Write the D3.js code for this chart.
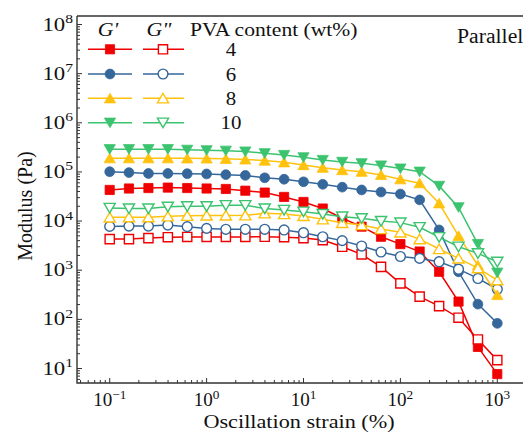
<!DOCTYPE html>
<html>
<head>
<meta charset="utf-8">
<script src="https://cdn.jsdelivr.net/npm/d3@7"></script>
<style>
  body { margin: 0; background: #fff; }
  svg { display: block; font-family: "Liberation Serif", "Times New Roman", serif; }
</style>
</head>
<body>
<div id="chart"></div>
<script>
// oscillation strain (%), 5 points per decade
const strain = [0.1, 0.158, 0.251, 0.398, 0.631, 1, 1.58, 2.51, 3.98, 6.31,
  10, 15.8, 25.1, 39.8, 63.1, 100, 158, 251, 398, 631, 1000];

// storage modulus G' (Pa)
const gp4 = [43000, 46000, 47000, 48000, 47000, 46000, 45000, 41500, 38000, 31000,
  24500, 18000, 11400, 7700, 4800, 3400, 2400, 930, 230, 27.5, 7.7];
const gp6 = [101000, 97000, 93000, 93000, 92000, 91000, 88000, 85000, 76000, 71000,
  63000, 56000, 49000, 43000, 39000, 35500, 27000, 6600, 930, 204, 83];
const gp8 = [190000, 190000, 190000, 190000, 189000, 188000, 185000, 180000, 170000, 157000,
  138000, 122000, 109000, 101000, 87000, 71000, 59000, 23000, 5000, 1260, 313];
const gp10 = [290000, 290000, 290000, 290000, 282000, 275000, 270000, 260000, 240000, 221000,
  198000, 175000, 160000, 150000, 135000, 117000, 101000, 52000, 19000, 3400, 890];

// loss modulus G'' (Pa)
const gpp4 = [4300, 4300, 4500, 4700, 4750, 4750, 4750, 4750, 4800, 4700,
  4500, 4100, 3000, 2100, 1170, 540, 290, 186, 108, 39, 14.8];
const gpp6 = [7800, 7900, 7900, 8300, 7700, 7100, 6800, 6800, 6800, 6600,
  5800, 4800, 4000, 3100, 2350, 1900, 1740, 1490, 1050, 680, 410];
const gpp8 = [11900, 12000, 12000, 12500, 12800, 13000, 13000, 13100, 14400, 13900,
  12700, 10900, 9200, 8300, 6900, 5900, 4300, 2700, 1740, 1100, 630];
const gpp10 = [18500, 18000, 18000, 19500, 20000, 20000, 21000, 21000, 18000, 16800,
  15500, 13900, 12300, 11400, 10000, 9300, 7500, 4700, 3000, 2200, 1480];

const contents = ["4", "6", "8", "10"];
const colors = ["#f00000", "#35679b", "#ffc20e", "#3cc36f"];
const shapes = ["square", "circle", "up", "down"];

const series = contents.map((c, i) => ({
  label: c, color: colors[i], shape: shapes[i],
  gp: [gp4, gp6, gp8, gp10][i], gpp: [gpp4, gpp6, gpp8, gpp10][i]
}));

const W = 523, H = 432;
const plotLeft = 77, plotRight = 530, plotTop = 16, plotBottom = 383;

const svg = d3.select("#chart").append("svg")
  .attr("width", W).attr("height", H);

const x = d3.scaleLog().domain([Math.pow(10, -1.3375), Math.pow(10, 3.3375)]).range([plotLeft, plotRight]);
const y = d3.scaleLog().domain([Math.pow(10, 0.705), Math.pow(10, 8.173)]).range([plotBottom, plotTop]);

// text that is a bit wider than the font, like the reference
function label(px, py, size, sx, anchor) {
  return svg.append("g")
    .attr("transform", `translate(${px},${py}) scale(${sx},1)`)
    .append("text")
    .attr("text-anchor", anchor || "start")
    .attr("font-size", size).attr("fill", "#111");
}

function markerPath(shape) {
  if (shape === "square") return "M-4.6,-4.6H4.6V4.6H-4.6Z";
  if (shape === "circle") return d3.symbol().type(d3.symbolCircle).size(Math.PI * 4.9 * 4.9)();
  if (shape === "up") return "M0,-5L5.6,4.6L-5.6,4.6Z";
  return "M0,5L5.6,-4.6L-5.6,-4.6Z";
}

// axes frame
const axisColor = "#333";
svg.append("path")
  .attr("d", `M${plotLeft},${plotTop}V${plotBottom}H${plotRight + 5}M${plotLeft},${plotTop}H${plotRight + 5}`)
  .attr("fill", "none").attr("stroke", axisColor).attr("stroke-width", 1.4);

// y ticks
for (let e = 0; e <= 8; e++) {
  for (let m = 1; m <= 9; m++) {
    const v = m * Math.pow(10, e);
    if (v < y.domain()[0] || v > y.domain()[1]) continue;
    const len = m === 1 ? 5 : 3;
    svg.append("line")
      .attr("x1", plotLeft).attr("x2", plotLeft + len)
      .attr("y1", y(v)).attr("y2", y(v))
      .attr("stroke", axisColor).attr("stroke-width", 1);
  }
}
for (let e = 1; e <= 8; e++) {
  const t = label(73, y(Math.pow(10, e)) + 6, 19, 1.2, "end");
  t.append("tspan").text("10");
  t.append("tspan").attr("dy", -7.5).attr("font-size", 13).text(e);
}

// x ticks
for (let e = -2; e <= 3; e++) {
  for (let m = 1; m <= 9; m++) {
    const v = m * Math.pow(10, e);
    if (v < x.domain()[0] || v > x.domain()[1]) continue;
    const len = m === 1 ? 5 : 3;
    svg.append("line")
      .attr("x1", x(v)).attr("x2", x(v))
      .attr("y1", plotBottom).attr("y2", plotBottom - len)
      .attr("stroke", axisColor).attr("stroke-width", 1);
  }
}
for (let e = -1; e <= 3; e++) {
  const t = label(x(Math.pow(10, e)), 406, 18, 1.06, "middle");
  t.append("tspan").text("10");
  t.append("tspan").attr("dy", -7).attr("font-size", 12.5).text(e < 0 ? "\u2212" + (-e) : e);
}

// axis titles
label(299, 428, 19, 1.17, "middle").text("Oscillation strain (%)");
svg.append("text")
  .attr("transform", "translate(32,206) rotate(-90)")
  .attr("text-anchor", "middle").attr("font-size", 20).attr("fill", "#111")
  .text("Modulus (Pa)");

// data
const line = d3.line().x((d, i) => x(strain[i])).y(d => y(d));
series.forEach(s => {
  [["gp", true], ["gpp", false]].forEach(([key, filled]) => {
    const vals = s[key];
    svg.append("path")
      .attr("d", line(vals))
      .attr("fill", "none").attr("stroke", s.color).attr("stroke-width", 1.5);
    svg.append("g").selectAll("path")
      .data(vals).enter().append("path")
      .attr("d", markerPath(s.shape))
      .attr("transform", (d, i) => `translate(${x(strain[i])},${y(d)})`)
      .attr("fill", filled ? s.color : "#fff")
      .attr("stroke", s.color).attr("stroke-width", filled ? 0.8 : 1.4);
  });
});

// legend
const rowY = [49.3, 74, 98.3, 122.7];
label(108, 36, 19, 1.15, "middle").attr("font-style", "italic").text("G'");
label(159, 36, 19, 1.15, "middle").attr("font-style", "italic").text('G"');
label(190, 36, 18, 1.2).text("PVA content (wt%)");

series.forEach((s, i) => {
  const yy = rowY[i];
  [[88, 132, 110, true], [143, 184, 163, false]].forEach(([x1, x2, xm, filled]) => {
    svg.append("line").attr("x1", x1).attr("x2", x2).attr("y1", yy).attr("y2", yy)
      .attr("stroke", s.color).attr("stroke-width", 1.5);
    svg.append("path").attr("d", markerPath(s.shape))
      .attr("transform", `translate(${xm},${yy})`)
      .attr("fill", filled ? s.color : "#fff")
      .attr("stroke", s.color).attr("stroke-width", filled ? 0.8 : 1.4);
  });
  label(231, yy + 6.5, 19, 1.1, "middle").text(s.label);
});

label(457, 43, 20.5, 1.06).text("Parallel");
</script>
</body>
</html>
